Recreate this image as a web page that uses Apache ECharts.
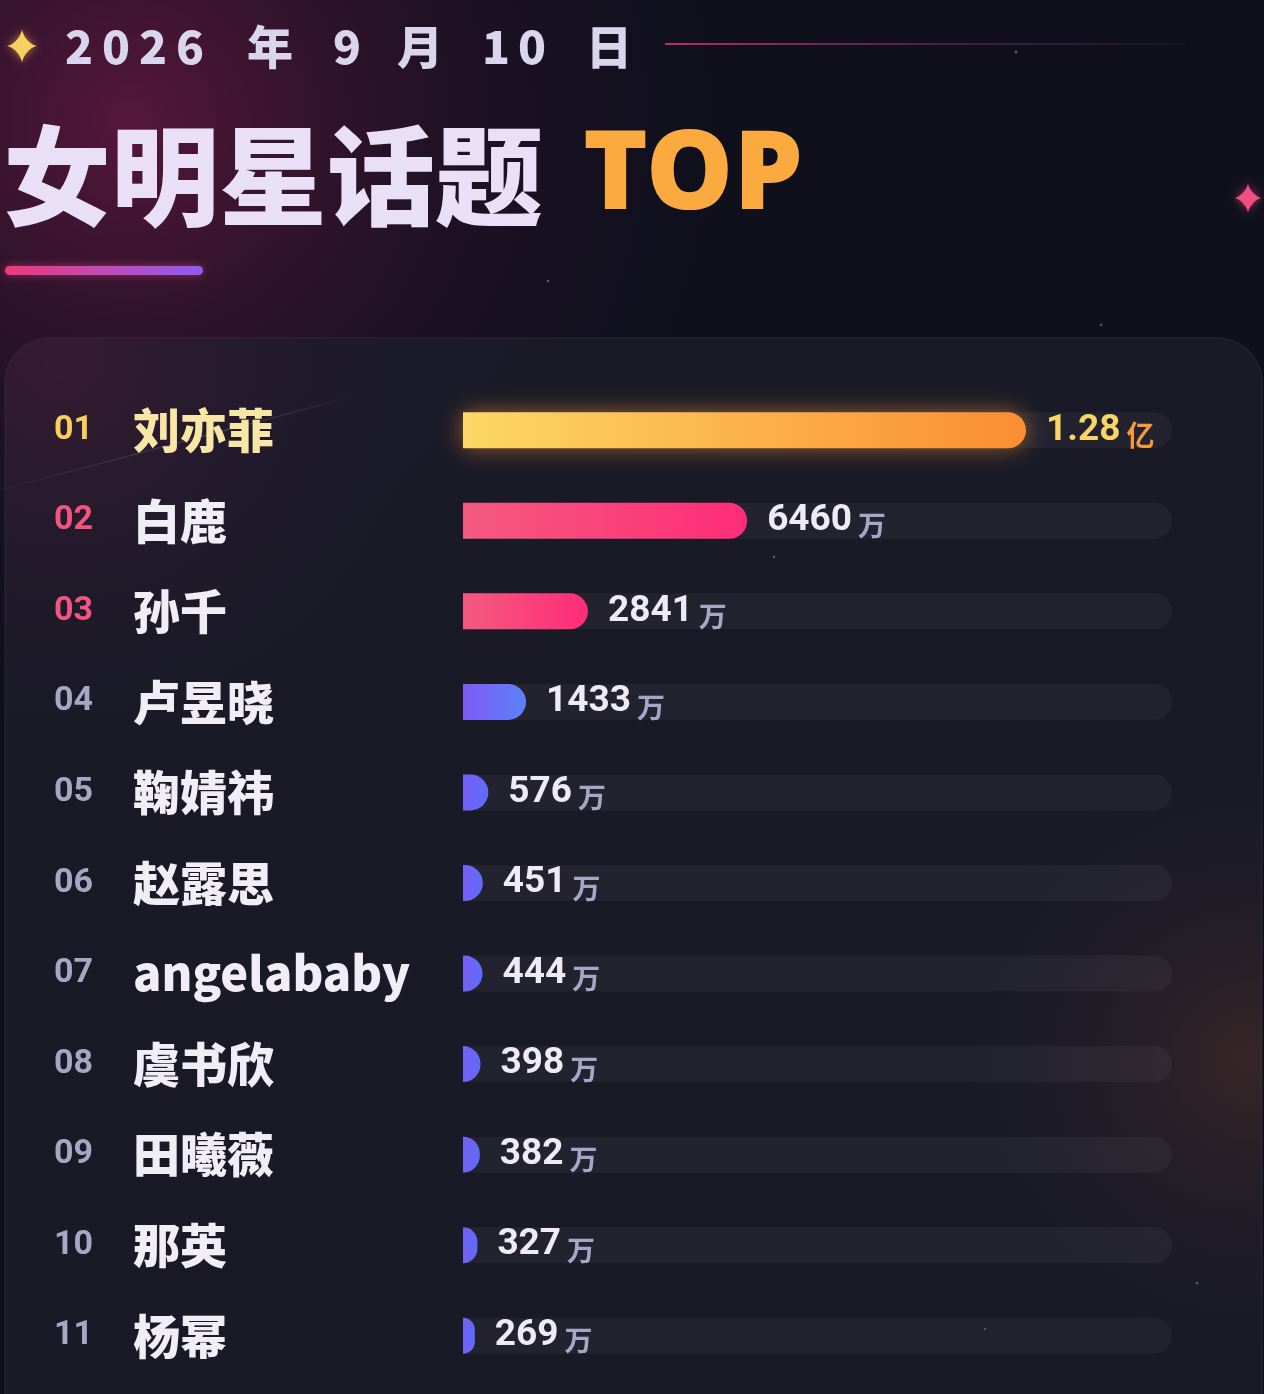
<!DOCTYPE html>
<html>
<head>
<meta charset="utf-8">
<script src="https://cdn.jsdelivr.net/npm/echarts@6/dist/echarts.min.js"></script>
<style>
html,body{margin:0;padding:0;background:#10101d;}
#main{width:1264px;height:1394px;}
</style>
</head>
<body>
<div id="main"></div>
<script>
// ---- data ----
var ranks = ["01","02","03","04","05","06","07","08","09","10","11"];
var names = ["刘亦菲","白鹿","孙千","卢昱晓","鞠婧祎","赵露思","angelababy","虞书欣","田曦薇","那英","杨幂"];
var values = [12800, 6460, 2841, 1433, 576, 451, 444, 398, 382, 327, 269]; // 单位：万
var dateText = "2026 年 9 月 10 日";
var titleText = "女明星话题";
var titleTop = "TOP";

// ---- styles ----
var LG = echarts.graphic.LinearGradient;
var RG = echarts.graphic.RadialGradient;

function barColor(i){
  if(i===0) return new LG(0,0,1,0,[{offset:0,color:'#fcd866'},{offset:1,color:'#fb8d33'}]);
  if(i<3) return new LG(0,0,1,0,[{offset:0,color:'#f45a80'},{offset:1,color:'#ff2c78'}]);
  if(i===3) return new LG(0,0,1,0,[{offset:0,color:'#7d5bf6'},{offset:1,color:'#5b82fa'}]);
  return new LG(0,0,1,0,[{offset:0,color:'#7460f7'},{offset:1,color:'#5f6cf8'}]);
}

var barData = values.map(function(v,i){
  var it = {value:v, itemStyle:{color:barColor(i), borderRadius:[0,18,18,0]}};
  if(i===0){ it.itemStyle.shadowBlur=22; it.itemStyle.shadowColor='rgba(255,150,50,0.55)'; }
  return it;
});

function starPts(cx, cy, rx, ry){
  var pts = [];
  for(var k=0;k<64;k++){
    var t = k/64*Math.PI*2;
    var c = Math.cos(t), s = Math.sin(t);
    pts.push([cx + rx*c*c*c, cy + ry*s*s*s]);
  }
  return pts;
}

var dateChars = [['2',65],['0',102],['2',139],['6',176],['年',247],['9',333],['月',397],['1',482],['0',518],['日',586]];
var dateEls = dateChars.map(function(c){
  return {type:'text', x:c[1], y:47, z:5, style:{text:c[0], fill:'#d9d5ec', font:'900 46px "Noto Sans CJK SC", "Noto Sans", sans-serif', textVerticalAlign:'middle', textAlign:'left'}};
});

var chart = echarts.init(document.getElementById('main'), null, {renderer:'canvas'});
var option = {
  backgroundColor:'#10101d',
  animation:false,
  graphic:[
    {type:'rect', z:-10, shape:{x:0,y:0,width:1264,height:1394}, style:{fill:'#10101d'}},
    {type:'rect', z:-9, shape:{x:0,y:0,width:1264,height:1394}, style:{fill:new RG(130,120,620,[{offset:0,color:'rgba(105,25,65,0.8)'},{offset:0.5,color:'rgba(60,20,50,0.4)'},{offset:1,color:'rgba(16,16,29,0)'}],true)}},
    {type:'rect', z:-8, shape:{x:5,y:338,width:1257,height:1150,r:45}, style:{fill:'rgba(27,27,40,0.94)', stroke:'rgba(255,255,255,0.06)', lineWidth:1.5}},
    {type:'rect', z:-7, shape:{x:5,y:338,width:1257,height:1150,r:45}, style:{fill:new RG(60,360,420,[{offset:0,color:'rgba(80,28,60,0.55)'},{offset:1,color:'rgba(27,27,40,0)'}],true)}},
    {type:'rect', z:-7, shape:{x:5,y:338,width:1257,height:1150,r:45}, style:{fill:new RG(1250,1060,300,[{offset:0,color:'rgba(85,50,40,0.5)'},{offset:1,color:'rgba(27,27,40,0)'}],true)}},
    {type:'line', z:-6, shape:{x1:0,y1:490,x2:370,y2:392}, style:{stroke:new LG(0,0,1,0,[{offset:0,color:'rgba(255,255,255,0.02)'},{offset:0.6,color:'rgba(255,255,255,0.14)'},{offset:1,color:'rgba(255,255,255,0)'}]), lineWidth:1.5}},
    {type:'line', z:-6, shape:{x1:665,y1:44,x2:1185,y2:44}, style:{stroke:new LG(0,0,1,0,[{offset:0,color:'rgba(200,45,110,0.95)'},{offset:0.6,color:'rgba(120,50,110,0.45)'},{offset:1,color:'rgba(90,60,120,0.1)'}]), lineWidth:2}},
    {type:'polygon', z:5, shape:{points:starPts(22,46,15,17)}, style:{fill:'#f7cf5e', shadowBlur:8, shadowColor:'rgba(250,200,90,0.6)'}},
    {type:'polygon', z:5, shape:{points:starPts(1248,198,14,15)}, style:{fill:'#f0507f', shadowBlur:8, shadowColor:'rgba(240,80,130,0.6)'}},
    {type:'circle', z:-5, shape:{cx:1016,cy:52,r:1.5}, style:{fill:'rgba(255,255,255,0.3)'}},
    {type:'circle', z:-5, shape:{cx:548,cy:281,r:1.3}, style:{fill:'rgba(255,255,255,0.3)'}},
    {type:'circle', z:-5, shape:{cx:1101,cy:325,r:1.3}, style:{fill:'rgba(255,255,255,0.3)'}},
    {type:'circle', z:-5, shape:{cx:774,cy:557,r:1.2}, style:{fill:'rgba(255,255,255,0.3)'}},
    {type:'circle', z:-5, shape:{cx:1197,cy:1283,r:1.2}, style:{fill:'rgba(255,255,255,0.3)'}},
    {type:'circle', z:-5, shape:{cx:985,cy:1329,r:1.2}, style:{fill:'rgba(255,255,255,0.25)'}},
    {type:'text', z:5, x:3, y:176, style:{text:titleText, font:'900 108px "Noto Sans CJK SC", sans-serif', textVerticalAlign:'middle', fill:'#e9e0f8', shadowBlur:18, shadowColor:'rgba(200,150,255,0.35)'}},
    {type:'text', z:5, x:583, y:178, style:{text:titleTop, font:'900 110px "Noto Sans", "Noto Sans CJK SC", sans-serif', textVerticalAlign:'middle', fill:'#fbaa40', shadowBlur:22, shadowColor:'rgba(255,150,50,0.45)'}},
    {type:'rect', z:5, shape:{x:5,y:266,width:198,height:9,r:4.5}, style:{fill:new LG(0,0,1,0,[{offset:0,color:'#f2387a'},{offset:1,color:'#8c5cf3'}]), shadowBlur:8, shadowColor:'rgba(230,70,150,0.5)'}}
  ].concat(dateEls),
  grid:{left:463, right:92, top:385, bottom:13, containLabel:false},
  xAxis:{type:'value', min:0, max:16120, show:false},
  yAxis:{
    type:'category', data:names, inverse:true,
    axisLine:{show:false}, axisTick:{show:false}, splitLine:{show:false},
    axisLabel:{
      margin:409, align:'left',
      formatter:function(val, idx){
        var r = idx===0 ? 'r1' : (idx<3 ? 'r2' : 'r3');
        var n = idx===0 ? 'n1' : 'n';
        return '{'+r+'|'+ranks[idx]+'}{'+n+'|'+val+'}';
      },
      rich:{
        r1:{color:'#f6cf5d', fontSize:34, fontWeight:'bold', fontFamily:'Roboto', width:79},
        r2:{color:'#f2557f', fontSize:34, fontWeight:'bold', fontFamily:'Roboto', width:79},
        r3:{color:'#a9a6c4', fontSize:34, fontWeight:'bold', fontFamily:'Roboto', width:79},
        n1:{color:'#f7e6a6', fontSize:47, fontWeight:900, fontFamily:'"Noto Sans CJK SC", sans-serif'},
        n:{color:'#f0edf7', fontSize:47, fontWeight:900, fontFamily:'"Noto Sans CJK SC", sans-serif'}
      }
    }
  },
  series:[{
    type:'bar', data:barData, barWidth:36,
    showBackground:true,
    backgroundStyle:{color:'rgba(255,255,255,0.045)', borderRadius:[0,18,18,0]},
    label:{
      show:true, position:'right', distance:20,
      formatter:function(p){
        if(p.value>=10000) return '{vy|'+(p.value/10000).toFixed(2)+'}{uy|亿}';
        return '{v|'+p.value+'}{u|万}';
      },
      rich:{
        vy:{color:'#f9d566', fontSize:37, fontWeight:'bold', fontFamily:'Roboto', lineHeight:44},
        uy:{color:'#f59b3b', fontSize:28, fontWeight:'bold', fontFamily:'"Noto Sans CJK SC", sans-serif', padding:[10,0,0,6], lineHeight:44},
        v:{color:'#eeebf6', fontSize:37, fontWeight:'bold', fontFamily:'Roboto', lineHeight:44},
        u:{color:'#a9a5c8', fontSize:28, fontWeight:'bold', fontFamily:'"Noto Sans CJK SC", sans-serif', padding:[10,0,0,6], lineHeight:44}
      }
    }
  }]
};
chart.setOption(option);
</script>
</body>
</html>
